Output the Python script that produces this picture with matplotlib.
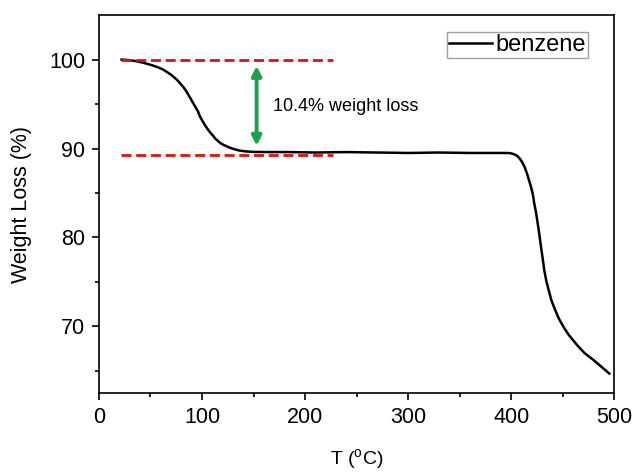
import numpy as np
import matplotlib.pyplot as plt

plt.rcParams['font.family'] = ['Liberation Sans', 'DejaVu Sans']

# TGA curve
temp = [22, 28, 35, 43, 52, 58, 62, 66, 70, 73, 76, 79, 82, 85, 88, 91, 93, 96, 98, 101, 103,
        106, 108, 111, 113, 116, 118, 121, 123, 126, 128, 132, 136, 142, 150, 165, 185, 210,
        240, 270, 300, 330, 360, 385, 395, 399, 402, 405.5, 408, 410.4, 413, 415.2, 417, 419.1,
        421, 422.3, 424, 425.6, 427, 428.8, 430.5, 432, 434, 436.2, 439, 442.7, 446, 450.8,
        456, 463.8, 471, 479.9, 488, 495]
weight = [100.0, 99.95, 99.85, 99.65, 99.35, 99.1, 98.9, 98.6, 98.3, 98.0, 97.7, 97.3, 96.9,
          96.4, 95.8, 95.2, 94.8, 94.2, 93.6, 93.0, 92.6, 92.1, 91.8, 91.4, 91.1, 90.8, 90.6,
          90.4, 90.3, 90.15, 90.05, 89.9, 89.78, 89.68, 89.62, 89.6, 89.6, 89.55, 89.6, 89.55,
          89.5, 89.55, 89.5, 89.5, 89.5, 89.48, 89.38, 89.2, 88.9, 88.5, 87.9, 87.2, 86.5, 85.7,
          84.8, 83.8, 82.8, 81.6, 80.5, 78.95, 77.6, 76.3, 75.1, 74.1, 72.9, 71.8, 70.9, 69.9,
          69.0, 67.9, 67.0, 66.2, 65.4, 64.7]

upper_level = 100.0
lower_level = 89.3
level_x = [21, 227]
arrow_x = 153
arrow_top = 99.3
arrow_bottom = 90.3
note = '10.4% weight loss'

fig = plt.figure(figsize=(6.38, 4.73), dpi=100)
ax = fig.add_axes([0.155, 0.169, 0.808, 0.799])

ax.plot(temp, weight, color='black', lw=1.8, label='benzene', solid_joinstyle='round')
ax.hlines([upper_level, lower_level], level_x[0], level_x[1], colors='#e01010',
          linestyles=(0, (3.6, 1.7)), lw=2.0)
ax.annotate('', xy=(arrow_x, arrow_top), xytext=(arrow_x, arrow_bottom),
            arrowprops=dict(arrowstyle='<|-|>', color='#1aa34a', lw=2.8,
                            mutation_scale=14, shrinkA=0, shrinkB=0))
ax.text(169, 94.7, note, fontsize=13, va='center', ha='left')

ax.set_xlim(0, 500)
ax.set_ylim(62.5, 105)
ax.set_xticks([0, 100, 200, 300, 400, 500])
ax.set_xticks([50, 150, 250, 350, 450], minor=True)
ax.set_yticks([70, 80, 90, 100])
ax.set_yticks([65, 75, 85, 95], minor=True)
ax.tick_params(axis='both', which='major', direction='out', length=5, width=1.2,
               labelsize=15.5, pad=5, top=False, right=False)
ax.tick_params(axis='both', which='minor', direction='out', length=3, width=1.2,
               top=False, right=False)
for s in ax.spines.values():
    s.set_linewidth(1.2)

ax.set_xlabel('T ($\\mathregular{^{o}}$C)', fontsize=14, labelpad=14)
ax.set_ylabel('Weight Loss (%)', fontsize=15.5, labelpad=12)

leg = ax.legend(loc='upper right', fontsize=17, frameon=True, fancybox=False,
                handlelength=1.85, handletextpad=0.12, borderpad=0.08,
                borderaxespad=0, bbox_to_anchor=(0.948, 0.955))
leg.get_frame().set_edgecolor('#888888')
leg.get_frame().set_linewidth(1.0)

fig.savefig('out.png', dpi=100)
